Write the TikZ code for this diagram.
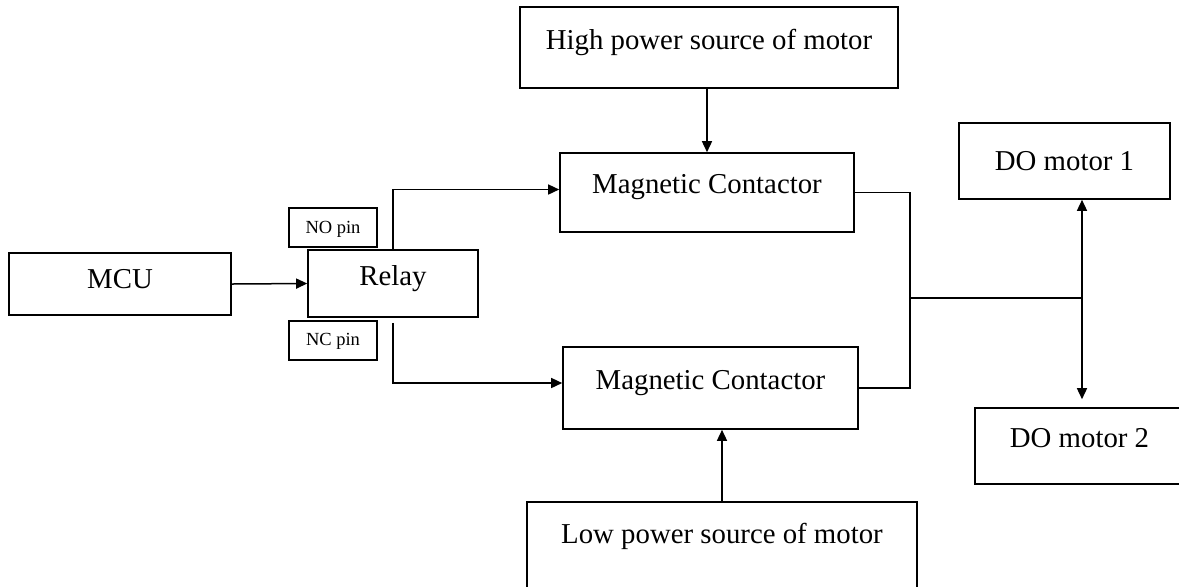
\documentclass[tikz,border=0pt]{standalone}
\usepackage{fontspec}
\setmainfont{Liberation Serif}
\usetikzlibrary{arrows.meta, calc}

\begin{document}
\begin{tikzpicture}[x=0.5pt, y=-0.5pt,
    blk/.style={draw, line width=0.8pt, inner sep=0pt, anchor=base, font=\fontsize{14.4}{17}\selectfont},
    pinbox/.style={blk, font=\fontsize{9.25}{11}\selectfont},
    arr/.style={line width=0.75pt, -{Triangle[length=5.5pt, width=5pt]}},
    wire/.style={line width=0.75pt}]
    \useasboundingbox (0,0) rectangle (1179,586);

    % Blocchi
    \node[blk, minimum width=189pt, text height=21pt, text depth=19.5pt] (high) at (709,49) {High power source of motor};
    \node[blk, minimum width=147pt, text height=20pt, text depth=19.5pt] (mctop) at (707,193) {Magnetic Contactor};
    \node[blk, minimum width=147.5pt, text height=21pt, text depth=20pt] (mcbot) at (710.5,389) {Magnetic Contactor};
    \node[blk, minimum width=195pt, text height=20.5pt, text depth=24.5pt] (low) at (722,543) {Low power source of motor};
    \node[blk, minimum width=111pt, text height=17.5pt, text depth=13.5pt] (mcu) at (120,288) {MCU};
    \node[blk, minimum width=85pt, text height=17.5pt, text depth=16pt] (relay) at (393,285) {Relay};
    \node[pinbox, minimum width=44pt, text height=12.5pt, text depth=7pt] (nopin) at (333,233) {NO pin};
    \node[pinbox, minimum width=44pt, text height=12pt, text depth=7.5pt] (ncpin) at (333,345) {NC pin};
    \node[blk, minimum width=105.5pt, text height=23.5pt, text depth=14.5pt] (do1) at (1064.5,170) {DO motor 1};
    \node[blk, minimum width=104.5pt, text height=19.5pt, text depth=18.5pt] (do2) at (1079.5,447) {DO motor 2};

    % Punti di giunzione
    \coordinate (bus) at (910,298);
    \coordinate (split) at (1082,298);

    % Collegamenti
    \draw[arr] (mctop.north |- high.south) -- (mctop.north);
    \draw[arr] (low.north) -- (low.north |- mcbot.south);
    \draw[arr] (mcu.east) -- (relay.west);
    \draw[arr] (relay.north) |- ($(mctop.west)+(0,-3)$);
    \draw[arr] ($(relay.south)+(0,5)$) |- ($(mcbot.west)+(0,-5)$);
    \draw[wire] (mctop.east) -| (bus) |- (mcbot.east);
    \draw[wire] (bus) -- (split);
    \draw[arr] (split) -- (split |- do1.south);
    \draw[arr] (split) -- ($(split |- do2.north)+(0,-8)$);
\end{tikzpicture}
\end{document}
